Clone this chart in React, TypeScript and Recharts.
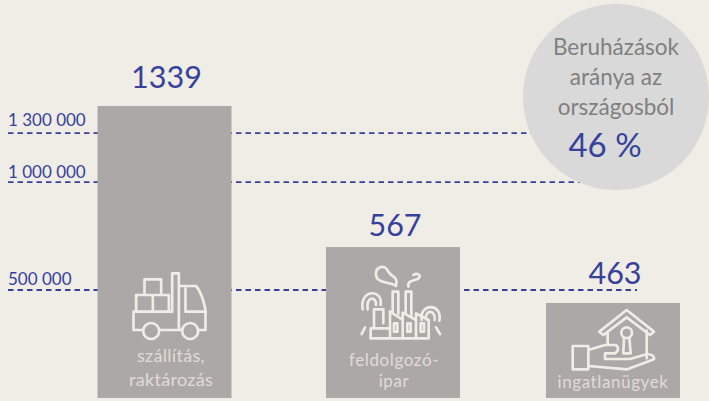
import { BarChart, Bar, XAxis, YAxis, Cell, LabelList, ReferenceLine, ReferenceDot } from 'recharts'

const BG = '#f0ece6'
const BAR_FILL = '#aca8a8'
const ICON = '#f0ece6'
const BLUE = '#36419b'
const GREY_TEXT = '#7f7f7f'
const DISC = '#d9d9d9'

// The source infographic is not drawn to scale: bar lengths and guide lines
// don't follow their printed numbers, so the heights are read off the picture.
const categories = ['szállítás,\nraktározás', 'feldolgozó-\nipar', 'ingatlanügyek']
const printedValues = [1339, 567, 463]
const barLevels = [1352, 699, 440]
const guideLabels = ['1 300 000', '1 000 000', '500 000']
const guideLevels = [1227, 1000, 500]
const discLines = ['Beruházások', 'aránya az', 'országosból']
const discValue = '46 %'

const WIDTH = 709
const HEIGHT = 401
const Y_MAX = 1843
const barCentres = [164.5, 393, 613]
const guideEnds = [640, 640, 637]
const guideLabelGaps = [7, 4, 5]
const valueGaps = [18, 11, 19]

const table = categories.map((name, i) => ({
  slot: barCentres[i],
  name,
  level: barLevels[i],
  printed: printedValues[i],
}))

function Truck() {
  return (
    <g>
      <path d="M135,105 V58 H185 V105 M110,155 V105 H208 V155 M160,105 V155" />
      <path d="M218,155 V40 H238 V210 M218,155 H102 V210 H130 M180,210 H247 M297,210 H318 V150 C312,120 305,95 290,78 H238" />
      <path d="M258,85 V155 H318" />
      <circle cx={155} cy={213} r={24} />
      <circle cx={272} cy={213} r={24} />
    </g>
  )
}

function Factory() {
  return (
    <g>
      <path d="M228,138 C215,125 170,132 168,105 C166,78 196,72 205,95 C214,112 236,108 228,138" />
      <path d="M265,140 C262,118 284,124 296,115 C306,104 290,98 280,105" />
      <path d="M218,215 V155 H235 V222 M257,222 V155 H274 V228" />
      <path d="M152,295 H326 V240 L288,220 V240 L248,218 V240 L210,214 V295 M248,240 V295 M288,240 V295" />
      <path d="M152,295 V265 H210 M162,265 V208 H190 V250" />
      <path d="M222,250 H232 V275 H222 Z M262,250 H272 V275 H262 Z M302,250 H312 V275 H302 Z" />
      <path d="M128,208 C118,146 190,146 182,195 M143,208 C136,168 170,168 168,195" />
      <path d="M305,240 C298,188 368,188 358,242 M318,238 C314,208 348,208 344,240" />
      <path d="M125,282 L135,262 M348,262 L360,282" />
    </g>
  )
}

function House() {
  return (
    <g>
      <path d="M178,125 L260,60 L342,125 L330,135 L260,82 L190,135 Z" />
      <path d="M203,128 V165 M320,122 V205" />
      <circle cx={260} cy={128} r={16} />
      <path d="M252,143 L250,190 H272 L268,143" />
      <path d="M98,168 H145 V238 H98 Z" />
      <path d="M145,180 L195,165 H228 Q242,178 225,190 H195 V207 H270 L322,192 Q345,195 342,208 L262,238 L145,228" />
    </g>
  )
}

const icons = [
  { Icon: Truck, dx: 2, bottom: 138 },
  { Icon: Factory, dx: -6, bottom: 158 },
  { Icon: House, dx: -6, bottom: 108 },
]

const captions = [
  { shift: 6.5, baselines: [-36, -12], size: 18, spacing: 0.3 },
  { shift: 1, baselines: [-32, -11], size: 17, spacing: 0.6 },
  { shift: 0, baselines: [-10], size: 17, spacing: 0.6 },
]

function IconBar(props: any) {
  const { x, y, width, height, index, fill } = props
  const { Icon, dx, bottom } = icons[index]
  const caption = captions[index]
  const base = y + height
  return (
    <g>
      <rect x={x} y={y} width={width} height={height} fill={fill} />
      <g
        transform={`translate(${x + dx},${base - bottom}) scale(${1 / 3})`}
        fill="none"
        stroke={ICON}
        strokeWidth={8}
        strokeLinejoin="round"
        strokeLinecap="round"
      >
        <Icon />
      </g>
      {categories[index].split('\n').map((line, i) => (
        <text
          key={line}
          x={x + width / 2 + caption.shift}
          y={base + caption.baselines[i]}
          textAnchor="middle"
          fontSize={caption.size}
          letterSpacing={caption.spacing}
          fill="#e0dcd6"
        >
          {line}
        </text>
      ))}
    </g>
  )
}

function ValueLabel(props: any) {
  const { x, y, width, value, index } = props
  return (
    <text x={x + width / 2 + 2} y={y - valueGaps[index]} textAnchor="middle" fontSize={30.5} fill={BLUE}>
      {value}
    </text>
  )
}

function Disc(props: any) {
  const { cx, cy, r } = props
  return (
    <g>
      <circle cx={cx} cy={cy} r={r} fill={DISC} />
      {discLines.map((line, i) => (
        <text key={line} x={cx} y={cy - 42 + i * 30} textAnchor="middle" fontSize={22.5} fill={GREY_TEXT}>
          {line}
        </text>
      ))}
      <text x={cx - 11} y={cy + 60} textAnchor="middle" fontSize={33} fill={BLUE}>
        {discValue}
      </text>
    </g>
  )
}

export default function App() {
  return (
    <div
      style={{
        position: 'absolute',
        left: 0,
        top: 0,
        width: WIDTH,
        height: HEIGHT,
        background: BG,
        fontFamily: 'Lato, sans-serif',
      }}
    >
      <BarChart
        width={WIDTH}
        height={HEIGHT}
        data={table}
        margin={{ top: 0, right: 0, bottom: 3, left: 0 }}
      >
        <XAxis dataKey="slot" type="number" domain={[0, WIDTH]} hide />
        <YAxis type="number" domain={[0, Y_MAX]} hide />
        {guideLevels.map((level, i) => (
          <ReferenceLine
            key={level}
            zIndex={100}
            segment={[
              { x: 8, y: level },
              { x: guideEnds[i], y: level },
            ]}
            stroke={BLUE}
            strokeWidth={1.8}
            strokeDasharray="5.5 4"
            label={(p: any) => (
              <text x={8} y={p.viewBox.y - guideLabelGaps[i]} fontSize={17} fill={BLUE}>
                {guideLabels[i]}
              </text>
            )}
          />
        ))}
        <Bar dataKey="level" barSize={134} fill={BAR_FILL} isAnimationActive={false} shape={IconBar}>
          {table.map(row => (
            <Cell key={row.name} fill={BAR_FILL} />
          ))}
          <LabelList dataKey="printed" content={ValueLabel} />
        </Bar>
        <ReferenceDot x={616} y={1394} r={93} shape={Disc} />
      </BarChart>
    </div>
  )
}
